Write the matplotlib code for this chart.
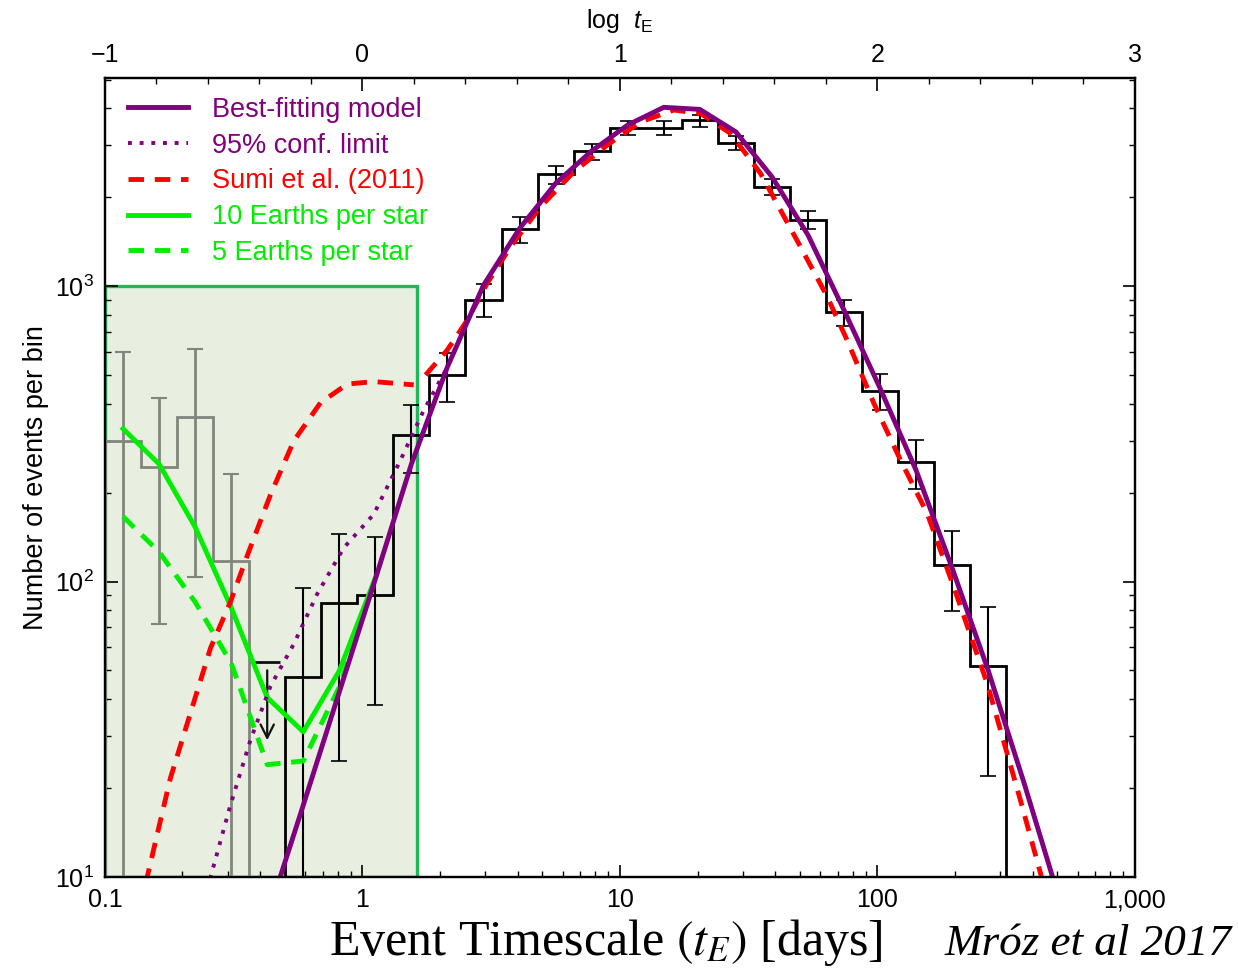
import numpy as np
import matplotlib
matplotlib.use('Agg')
import matplotlib.pyplot as plt
from matplotlib.lines import Line2D
from matplotlib.patches import Rectangle
from matplotlib.ticker import FixedLocator, MultipleLocator, NullFormatter

plt.rcParams['font.family'] = ['Liberation Sans', 'DejaVu Sans']
plt.rcParams['mathtext.fontset'] = 'custom'
plt.rcParams['mathtext.rm'] = 'Liberation Sans'
plt.rcParams['mathtext.it'] = 'Liberation Sans:italic'

# bin centres, log10(tE / day), bin width 0.14 dex
log_bins = [-0.93, -0.79, -0.65, -0.51, -0.37, -0.23, -0.09, 0.05, 0.19, 0.33,
            0.47, 0.61, 0.75, 0.89, 1.03, 1.17, 1.31, 1.45, 1.59, 1.73,
            1.87, 2.01, 2.15, 2.29, 2.43, 2.57, 2.71]
half_width = 0.07

# low-quality bins (grey), bins 0-3
grey_n = [299, 245, 360, 117]
grey_hi = [598, 418, 612, 232]
grey_lo = [1, 71.8, 104, 1]

# upper limit, bin 4
limit_n = 53.3
limit_arrow_end = 28.4

# main histogram, bins 5-24
hist_n = [47.4, 84.5, 90, 314, 500, 897, 1560, 2389, 2864, 3430,
          3430, 3638, 3060, 2168, 1679, 814, 442, 254, 114, 51.9]
hist_hi = [95.3, 145, 142, 397, 595, 1016, 1708, 2553, 3037, 3620,
           3620, 3793, 3215, 2301, 1794, 897, 504, 301, 148, 81.7]
hist_lo = [1, 24.7, 38.2, 233, 406, 783, 1402, 2212, 2680, 3243,
           3243, 3459, 2884, 2031, 1555, 733, 382, 206, 79.6, 22]

# best-fitting model at bins 4-26
model_n = [7.3, 17.5, 42.3, 102, 250, 533, 1007, 1567, 2226, 2866, 3508, 4027,
           3963, 3326, 2344, 1489, 829, 451, 238, 111, 50, 20.7, 8.2]

# 95% confidence limit
conf_logt = [-0.62, -0.590, -0.513, -0.435, -0.357, -0.267, -0.176, -0.073,
             0.044, 0.148, 0.238, 0.33, 0.47]
conf_n = [8.3, 10, 17.5, 29.1, 44.3, 61.4, 90.7, 130, 169, 258, 380, 533, 1007]

# Sumi et al. (2011), two pieces
sumi1_logt = [-0.87, -0.836, -0.746, -0.668, -0.590, -0.513, -0.448, -0.357,
              -0.267, -0.163, -0.059, 0.044, 0.199]
sumi1_n = [7.8, 10, 21.6, 35.9, 59.6, 85.3, 122, 197, 299, 403, 466, 475, 463]
sumi2_logt = [0.245, 0.329, 0.407, 0.484, 0.575, 0.691, 0.821, 0.950, 1.080,
              1.209, 1.313, 1.429, 1.546, 1.701, 1.805, 1.882, 1.986, 2.089,
              2.193, 2.296, 2.426, 2.555, 2.633, 2.68]
sumi2_n = [500, 607, 767, 1021, 1358, 1854, 2436, 2999, 3595, 3943, 3841, 3286,
           2404, 1358, 920, 656, 401, 258, 170, 96, 45.2, 18.2, 10.3, 7]

# Earth-mass planet models, bins 0-7
earth10_n = [329, 250, 153, 81.7, 40.5, 31, 49.9, 103]
earth5_n = [166, 126, 85.3, 53, 24, 24.7, 44, 102]

box_tmax = 1.635

purple = '#800080'
red = '#ff0000'
green = '#00ee00'
grey = '#80867c'
dash = (0, (3.2, 2.2))

t = 10 ** np.array(log_bins)
edges = 10 ** np.append(np.array(log_bins) - half_width, log_bins[-1] + half_width)

fig = plt.figure(figsize=(12.38, 9.68), dpi=100)
ax = fig.add_axes([0.0848, 0.094, 0.832, 0.8254])
ax.set_xscale('log')
ax.set_yscale('log')
ax.set_xlim(0.1, 1000)
ax.set_ylim(10, 5060)

ax.add_patch(Rectangle((0.1, 10), box_tmax - 0.1, 990, facecolor='#e8efe0',
                       edgecolor='#1db954', lw=2.4, zorder=1))

# grey bins
ax.stairs(grey_n, edges[0:5], baseline=1, color=grey, lw=2, zorder=3)
gn = np.array(grey_n)
ax.errorbar(t[0:4], gn, yerr=[gn - np.array(grey_lo), np.array(grey_hi) - gn],
            fmt='none', ecolor=grey, elinewidth=2, capsize=6, capthick=1.5, zorder=3)

# upper limit
ax.hlines(limit_n, 10 ** (log_bins[4] - 0.05), 10 ** (log_bins[4] + 0.05),
          color='#111111', lw=2, zorder=3)
ax.annotate('', xy=(t[4], limit_arrow_end), xytext=(t[4], limit_n * 0.96),
            arrowprops=dict(arrowstyle='->', color='#111111', lw=1.6,
                            mutation_scale=24), zorder=3)

# main histogram
ax.stairs(hist_n, edges[5:26], baseline=1, color='black', lw=2, zorder=3)
hn = np.array(hist_n)
ax.errorbar(t[5:25], hn, yerr=[hn - np.array(hist_lo), np.array(hist_hi) - hn],
            fmt='none', ecolor='black', elinewidth=1.5, capsize=6, capthick=1.2, zorder=3)

# models
ax.plot(t[0:8], earth5_n, color=green, lw=3.5, ls=dash, zorder=4)
ax.plot(t[0:8], earth10_n, color=green, lw=3.5, zorder=4)
ax.plot(10 ** np.array(sumi1_logt), sumi1_n, color=red, lw=3.5, ls=dash, zorder=5)
ax.plot(10 ** np.array(sumi2_logt), sumi2_n, color=red, lw=3.5, ls=dash, zorder=5)
ax.plot(10 ** np.array(conf_logt), conf_n, color=purple, lw=2.8, ls=(0, (1, 2)), zorder=5)
ax.plot(t[4:27], model_n, color=purple, lw=3.5, zorder=6)

# axes styling
for s in ax.spines.values():
    s.set_linewidth(1.6)
ax.tick_params(which='both', direction='in', top=False, right=True, labelsize=18)
ax.tick_params(which='major', length=9, width=1.2, pad=8)
ax.tick_params(which='minor', length=4.5, width=1)
ax.xaxis.set_major_locator(FixedLocator([0.1, 1, 10, 100, 1000]))
ax.set_xticklabels(['0.1', '1', '10', '100', '1,000'])
ax.xaxis.set_minor_formatter(NullFormatter())
ax.set_ylabel('Number of events per bin', fontsize=19.5, labelpad=4)

top = ax.twiny()
top.set_xlim(-1, 3)
top.set_xticks([-1, 0, 1, 2, 3])
top.set_xticklabels(['\u22121', '0', '1', '2', '3'])
top.xaxis.set_minor_locator(MultipleLocator(0.2))
top.tick_params(which='both', direction='in', labelsize=18)
top.tick_params(which='major', length=9, width=1.2, pad=8)
top.tick_params(which='minor', length=4.5, width=1)
top.set_xlabel('log  $t_{\\rm E}$', fontsize=18, labelpad=11)
for s in top.spines.values():
    s.set_linewidth(1.6)

handles = [Line2D([], [], color=purple, lw=3.5),
           Line2D([], [], color=purple, lw=2.8, ls=(0, (1, 2))),
           Line2D([], [], color=red, lw=3.5, ls=dash),
           Line2D([], [], color=green, lw=3.5),
           Line2D([], [], color=green, lw=3.5, ls=dash)]
labels = ['Best-fitting model', '95% conf. limit', 'Sumi et al. (2011)',
          '10 Earths per star', '5 Earths per star']
leg = ax.legend(handles, labels, loc='upper left', frameon=False, fontsize=19.5,
                handlelength=2.2, handletextpad=0.9, labelspacing=0.36,
                borderaxespad=0.3, bbox_to_anchor=(0.004, 1.0))
for txt, c in zip(leg.get_texts(), [purple, purple, red, green, green]):
    txt.set_color(c)

fig.text(0.4895, 0.013, 'Event Timescale $(t_E)$ [days]', ha='center', va='baseline',
         fontsize=36, family='Liberation Serif', math_fontfamily='stix')
fig.text(0.995, 0.013, 'Mróz et al 2017', ha='right', va='baseline',
         fontsize=32.5, family='Liberation Serif', style='italic')

fig.savefig('out.png', dpi=100)
